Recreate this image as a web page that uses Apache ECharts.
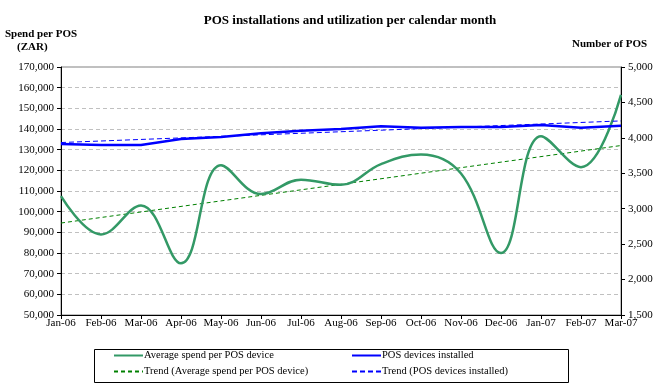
<!DOCTYPE html>
<html><head><meta charset="utf-8">
<script src="https://cdn.jsdelivr.net/npm/echarts@6/dist/echarts.min.js"></script>
<style>html,body{margin:0;padding:0;background:#fff}#c{width:660px;height:385px}</style>
</head><body><div id="c"></div>
<script>
const categories = ['Jan-06','Feb-06','Mar-06','Apr-06','May-06','Jun-06','Jul-06','Aug-06','Sep-06','Oct-06','Nov-06','Dec-06','Jan-07','Feb-07','Mar-07'];
const avgSpend = [107500, 89000, 103000, 75000, 122500, 108500, 115500, 113000, 123000, 127700, 118500, 80000, 136500, 121500, 156500];
const posInstalled = [3913, 3899, 3899, 3984, 4012, 4064, 4101, 4125, 4163, 4143, 4153, 4153, 4181, 4143, 4171];
const trendSpend = [94500, null, null, null, null, null, null, null, null, null, null, null, null, null, 132000];
const trendPos = [3934, null, null, null, null, null, null, null, null, null, null, null, null, null, 4239];
const leftTicks = {min: 50000, max: 170000, interval: 10000};
const rightTicks = {min: 1500, max: 5000, interval: 500};

const font = 'Liberation Serif';
const fmt = v => v.toLocaleString('en-US');
const chart = echarts.init(document.getElementById('c'));
const legendText = {fontFamily: font, fontSize: 10.5, color: '#000', padding: [0, 0, 0, -4]};
chart.setOption({
  animation: false,
  backgroundColor: '#fff',
  textStyle: {fontFamily: font},
  title: {text: 'POS installations and utilization per calendar month', left: 345, top: 9, textAlign: 'center',
    textStyle: {fontFamily: font, fontSize: 13, fontWeight: 'bold', color: '#000'}},
  grid: {left: 61, right: 39, top: 67, bottom: 70, show: true, borderColor: '#808080', borderWidth: 1, backgroundColor: 'transparent'},
  graphic: [
    {type: 'rect', left: 92, top: 347, shape: {width: 474, height: 33}, style: {fill: 'none', stroke: '#000', lineWidth: 1}, z: 0},
    {type: 'text', left: 5, top: 29, style: {text: 'Spend per POS', font: 'bold 11px "Liberation Serif"', fill: '#000'}},
    {type: 'text', left: 17, top: 42, style: {text: '(ZAR)', font: 'bold 11px "Liberation Serif"', fill: '#000'}},
    {type: 'text', left: 572, top: 39, style: {text: 'Number of POS', font: 'bold 11px "Liberation Serif"', fill: '#000'}}
  ],
  legend: [
    {data: ['Average spend per POS device', 'Trend (Average spend per POS device)'], orient: 'vertical', left: 113, top: 350,
     itemWidth: 29, itemHeight: 12, itemGap: 5, itemStyle: {opacity: 0}, textStyle: legendText, padding: 0},
    {data: ['POS devices installed', 'Trend (POS devices installed)'], orient: 'vertical', left: 351, top: 350,
     itemWidth: 29, itemHeight: 12, itemGap: 5, itemStyle: {opacity: 0}, textStyle: legendText, padding: 0}
  ],
  xAxis: {type: 'category', data: categories, boundaryGap: false,
    axisLine: {lineStyle: {color: '#000'}}, axisTick: {show: true, length: 4, inside: false, lineStyle: {color: '#000'}},
    axisLabel: {fontFamily: font, fontSize: 11, color: '#000', margin: 3, interval: 0}},
  yAxis: [
    {type: 'value', min: leftTicks.min, max: leftTicks.max, interval: leftTicks.interval, position: 'left',
     axisLine: {show: true, lineStyle: {color: '#000'}}, axisTick: {show: true, length: 4, lineStyle: {color: '#000'}},
     axisLabel: {formatter: fmt, fontFamily: font, fontSize: 11, color: '#000', margin: 7},
     splitLine: {show: true, lineStyle: {color: '#c0c0c0', type: [4, 3]}}},
    {type: 'value', min: rightTicks.min, max: rightTicks.max, interval: rightTicks.interval, position: 'right',
     axisLine: {show: true, lineStyle: {color: '#000'}}, axisTick: {show: true, length: 4, lineStyle: {color: '#000'}},
     axisLabel: {formatter: fmt, fontFamily: font, fontSize: 11, color: '#000', margin: 7},
     splitLine: {show: false}}
  ],
  series: [
    {name: 'Average spend per POS device', type: 'line', yAxisIndex: 0, data: avgSpend, smooth: 0.4, symbol: 'none',
     lineStyle: {color: '#339966', width: 2.5}, itemStyle: {color: '#339966'}, z: 3},
    {name: 'POS devices installed', type: 'line', yAxisIndex: 1, data: posInstalled, symbol: 'none',
     lineStyle: {color: '#0000ff', width: 2.5}, itemStyle: {color: '#0000ff'}, z: 4},
    {name: 'Trend (Average spend per POS device)', type: 'line', yAxisIndex: 0, data: trendSpend, connectNulls: true, symbol: 'none',
     lineStyle: {color: '#008000', width: 1, type: [4, 3]}, itemStyle: {color: '#008000'}, z: 2},
    {name: 'Trend (POS devices installed)', type: 'line', yAxisIndex: 1, data: trendPos, connectNulls: true, symbol: 'none',
     lineStyle: {color: '#0000ff', width: 1, type: [5, 3]}, itemStyle: {color: '#0000ff'}, z: 5}
  ]
});
</script></body></html>
